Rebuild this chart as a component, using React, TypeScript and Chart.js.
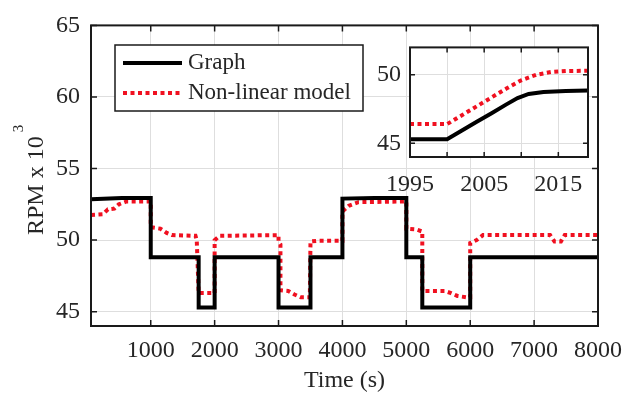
import React, { useEffect, useRef } from "react";
import { Chart, registerables } from "chart.js";

Chart.register(...registerables);

// ---------- data ----------
const xMainTicks = [1000, 2000, 3000, 4000, 5000, 6000, 7000, 8000];
const yMainTicks = [45, 50, 55, 60, 65];

// "Graph" series (step signal), time in s, RPM x 10^3
const graphTime = [
  65, 550, 1000, 1000, 1750, 1750, 2000, 2000, 3000, 3000, 3500, 3500, 4000, 4000, 4500, 5000,
  5000, 5250, 5250, 6000, 6000, 8000,
];
const graphRpm = [
  52.85, 52.95, 52.95, 48.8, 48.8, 45.3, 45.3, 48.8, 48.8, 45.3, 45.3, 48.8, 48.8, 52.9, 52.95, 52.95,
  48.8, 48.8, 45.3, 45.3, 48.8, 48.8,
];

// "Non-linear model" series
const modelTime = [
  65, 250, 330, 430, 500, 620, 1000, 1000, 1150, 1250, 1330, 1700, 1720, 1750, 2000, 2000, 2080,
  3000, 3000, 3030, 3030, 3150, 3250, 3350, 3490, 3500, 3600, 4000, 4000, 4100, 4250, 5000,
  5000, 5150, 5250, 5250, 5600, 5700, 5800, 5950, 6000, 6000, 6100, 6200, 7250, 7320, 7420,
  7480, 8000,
];
const modelRpm = [
  51.75, 51.8, 52.15, 52.2, 52.5, 52.7, 52.7, 50.9, 50.8, 50.5, 50.35, 50.3, 50.0, 46.3, 46.3, 50.0, 50.3,
  50.35, 49.9, 49.7, 46.5, 46.45, 46.2, 46.0, 46.0, 49.9, 49.95, 49.95, 52.0, 52.4, 52.65, 52.7,
  50.8, 50.75, 50.6, 46.45, 46.45, 46.3, 46.1, 46.0, 46.0, 49.8, 50.0, 50.35, 50.35, 49.9, 49.9,
  50.35, 50.35,
];

// inset
const insetXTicks = [1995, 2000, 2005, 2010, 2015];
const insetXLabels = [1995, 2005, 2015];
const insetYTicks = [45, 50];
const insetGraphYears = [1995, 2000, 2002, 2004, 2006, 2008, 2009.5, 2011, 2013, 2016, 2019];
const insetGraphVals = [45.3, 45.3, 45.93, 46.57, 47.2, 47.84, 48.3, 48.6, 48.75, 48.82, 48.85];
const insetModelYears = [1995, 2000, 2002, 2004, 2006, 2008, 2010, 2012, 2014, 2016, 2019];
const insetModelVals = [46.4, 46.4, 47.05, 47.7, 48.35, 49.0, 49.6, 50.0, 50.2, 50.27, 50.3];

const legendLabels = ["Graph", "Non-linear model"];
const yTitle = "RPM x 10";
const yTitleSup = "3";
const xTitle = "Time (s)";

// ---------- styles ----------
const SERIF = "'Liberation Serif', 'Times New Roman', serif";
const TEXT = "#262626";
const GRID = "#dedede";
const RED = "#f01020";
const BLACK = "#000000";
const DASH = [4, 3.5];

const toXY = (xs: number[], ys: number[]) => xs.map((x, i) => ({ x, y: ys[i] }));

const framePlugin = (xt: number[], yt: number[], len: number) => ({
  id: "frame",
  afterDatasetsDraw(chart: any) {
    const { ctx, chartArea } = chart;
    const { left, right, top, bottom } = chartArea;
    const xs = chart.scales.x;
    const ys = chart.scales.y;
    ctx.save();
    ctx.strokeStyle = "#1a1a1a";
    ctx.lineWidth = 1.5;
    ctx.beginPath();
    xt.forEach((v) => {
      const p = xs.getPixelForValue(v);
      ctx.moveTo(p, bottom);
      ctx.lineTo(p, bottom - len);
      ctx.moveTo(p, top);
      ctx.lineTo(p, top + len);
    });
    yt.forEach((v) => {
      const p = ys.getPixelForValue(v);
      ctx.moveTo(left, p);
      ctx.lineTo(left + len, p);
      ctx.moveTo(right, p);
      ctx.lineTo(right - len, p);
    });
    ctx.stroke();
    ctx.lineWidth = 2;
    ctx.strokeRect(left, top, right - left, bottom - top);
    ctx.restore();
  },
});

const whiteAreaPlugin = {
  id: "whiteArea",
  beforeDraw(chart: any) {
    const { ctx, chartArea } = chart;
    ctx.save();
    ctx.fillStyle = "#ffffff";
    ctx.fillRect(chartArea.left, chartArea.top, chartArea.right - chartArea.left, chartArea.bottom - chartArea.top);
    ctx.restore();
  },
};

const decorPlugin = {
  id: "decor",
  afterDraw(chart: any) {
    const { ctx } = chart;
    ctx.save();
    // y title with superscript
    ctx.translate(43, 235);
    ctx.rotate(-Math.PI / 2);
    ctx.fillStyle = TEXT;
    ctx.font = `24px ${SERIF}`;
    ctx.textBaseline = "alphabetic";
    ctx.textAlign = "left";
    ctx.fillText(yTitle, 0, 0);
    const w = ctx.measureText(yTitle).width;
    ctx.font = `15px ${SERIF}`;
    ctx.fillText(yTitleSup, w + 4, -20);
    ctx.restore();

    // legend
    ctx.save();
    const bx = 115, by = 45, bw = 248, bh = 66;
    ctx.fillStyle = "#ffffff";
    ctx.fillRect(bx, by, bw, bh);
    ctx.strokeStyle = "#1a1a1a";
    ctx.lineWidth = 1.5;
    ctx.strokeRect(bx, by, bw, bh);
    ctx.lineCap = "butt";
    ctx.lineWidth = 4;
    ctx.strokeStyle = BLACK;
    ctx.beginPath();
    ctx.moveTo(123, 63);
    ctx.lineTo(182, 63);
    ctx.stroke();
    ctx.strokeStyle = RED;
    ctx.setLineDash(DASH);
    ctx.beginPath();
    ctx.moveTo(123, 93);
    ctx.lineTo(182, 93);
    ctx.stroke();
    ctx.setLineDash([]);
    ctx.fillStyle = TEXT;
    ctx.font = `23px ${SERIF}`;
    ctx.textBaseline = "middle";
    ctx.textAlign = "left";
    ctx.fillText(legendLabels[0], 188, 63);
    ctx.fillText(legendLabels[1], 188, 93);
    ctx.restore();
  },
};

export default function App() {
  const mainRef = useRef<HTMLCanvasElement>(null);
  const insetRef = useRef<HTMLCanvasElement>(null);

  useEffect(() => {
    const font = { family: SERIF, size: 24 };
    const main = new Chart(mainRef.current as HTMLCanvasElement, {
      type: "line",
      data: {
        datasets: [
          {
            label: legendLabels[0],
            data: toXY(graphTime, graphRpm),
            borderColor: BLACK,
            borderWidth: 4,
            pointRadius: 0,
            tension: 0,
            borderJoinStyle: "miter",
            borderCapStyle: "butt",
          },
          {
            label: legendLabels[1],
            data: toXY(modelTime, modelRpm),
            borderColor: RED,
            borderWidth: 4,
            borderDash: DASH,
            pointRadius: 0,
            tension: 0,
            borderCapStyle: "butt",
          },
        ],
      },
      options: {
        responsive: false,
        animation: false,
        layout: { padding: { top: 20, right: 38, left: 0, bottom: 0 } },
        plugins: { legend: { display: false }, tooltip: { enabled: false } },
        scales: {
          x: {
            type: "linear",
            min: 65,
            max: 8000,
            afterBuildTicks: (s: any) => {
              s.ticks = xMainTicks.map((v) => ({ value: v }));
            },
            afterFit: (s: any) => {
              s.height = 73;
            },
            grid: { color: GRID, lineWidth: 1, drawTicks: false },
            border: { display: false },
            ticks: {
              padding: 10,
              font,
              color: TEXT,
              maxRotation: 0,
              autoSkip: false,
              callback: (v: any) => String(v),
            },
            title: { display: true, text: xTitle, font, color: TEXT, padding: { top: 0, bottom: 4 } },
          },
          y: {
            type: "linear",
            min: 44,
            max: 65,
            afterBuildTicks: (s: any) => {
              s.ticks = yMainTicks.map((v) => ({ value: v }));
            },
            afterFit: (s: any) => {
              s.width = 91;
            },
            grid: { color: GRID, lineWidth: 1, drawTicks: false },
            border: { display: false },
            ticks: { padding: 11, font, color: TEXT, callback: (v: any) => String(v) },
          },
        },
      } as any,
      plugins: [framePlugin(xMainTicks, yMainTicks, 6), decorPlugin],
    });

    const inset = new Chart(insetRef.current as HTMLCanvasElement, {
      type: "line",
      data: {
        datasets: [
          {
            data: toXY(insetGraphYears, insetGraphVals),
            borderColor: BLACK,
            borderWidth: 4,
            pointRadius: 0,
            tension: 0,
            borderCapStyle: "butt",
          },
          {
            data: toXY(insetModelYears, insetModelVals),
            borderColor: RED,
            borderWidth: 4,
            borderDash: DASH,
            pointRadius: 0,
            tension: 0,
            borderCapStyle: "butt",
          },
        ],
      },
      options: {
        responsive: false,
        animation: false,
        layout: { padding: { top: 6, right: 12, left: 0, bottom: 0 } },
        plugins: { legend: { display: false }, tooltip: { enabled: false } },
        scales: {
          x: {
            type: "linear",
            min: 1995,
            max: 2019,
            afterBuildTicks: (s: any) => {
              s.ticks = insetXTicks.map((v) => ({ value: v }));
            },
            afterFit: (s: any) => {
              s.height = 43;
            },
            grid: { color: GRID, lineWidth: 1, drawTicks: false },
            border: { display: false },
            ticks: {
              padding: 13,
              font,
              color: TEXT,
              maxRotation: 0,
              autoSkip: false,
              callback: (v: any) => (insetXLabels.includes(v) ? String(v) : ""),
            },
          },
          y: {
            type: "linear",
            min: 44,
            max: 52,
            afterBuildTicks: (s: any) => {
              s.ticks = insetYTicks.map((v) => ({ value: v }));
            },
            afterFit: (s: any) => {
              s.width = 50;
            },
            grid: { color: GRID, lineWidth: 1, drawTicks: false },
            border: { display: false },
            ticks: { padding: 9, font, color: TEXT, callback: (v: any) => String(v) },
          },
        },
      } as any,
      plugins: [whiteAreaPlugin, framePlugin(insetXTicks, insetYTicks, 5)],
    });

    return () => {
      main.destroy();
      inset.destroy();
    };
  }, []);

  return (
    <div style={{ position: "fixed", left: 0, top: 0, width: 636, height: 399, background: "#ffffff" }}>
      <canvas
        ref={mainRef}
        width={636}
        height={399}
        style={{ position: "absolute", left: 0, top: 0, width: 636, height: 399 }}
      />
      <canvas
        ref={insetRef}
        width={240}
        height={176}
        style={{ position: "absolute", left: 360, top: 24, width: 240, height: 176 }}
      />
    </div>
  );
}
